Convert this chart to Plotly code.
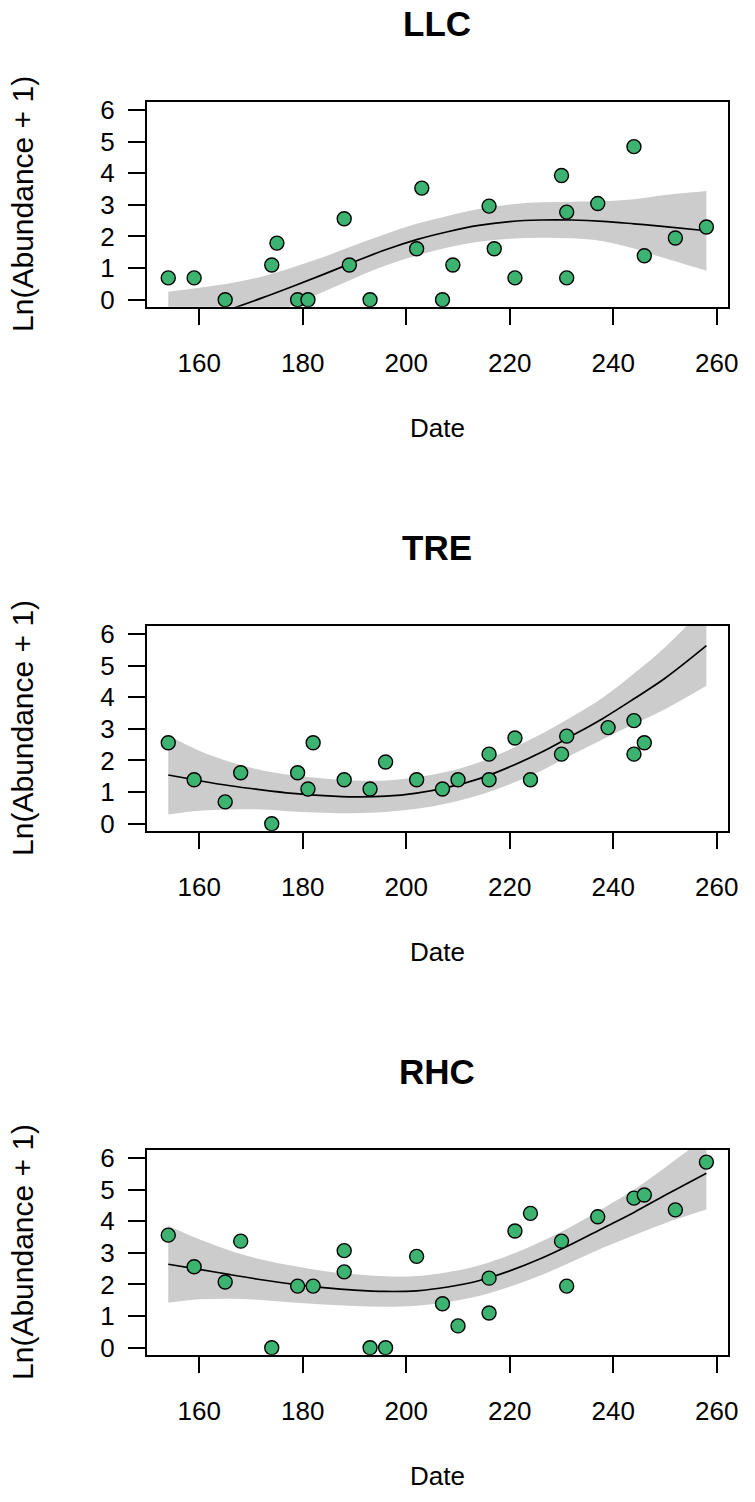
import plotly.graph_objects as go

# ---- observations: sampling date (day of year) and ln(abundance + 1) ----
llc_date = [154, 159, 165, 174, 175, 179, 181, 188, 189, 193, 202, 203, 207,
            209, 216, 217, 221, 230, 231, 231, 237, 244, 246, 252, 258]
llc_val = [0.69, 0.69, 0.00, 1.10, 1.79, 0.00, 0.00, 2.56, 1.10, 0.00, 1.61, 3.53, 0.00,
           1.10, 2.96, 1.61, 0.69, 3.93, 2.77, 0.69, 3.04, 4.84, 1.39, 1.95, 2.30]

tre_date = [154, 159, 165, 168, 174, 179, 181, 182, 188, 193, 196, 202,
            207, 210, 216, 216, 221, 224, 230, 231, 239, 244, 244, 246]
tre_val = [2.56, 1.39, 0.69, 1.61, 0.00, 1.61, 1.10, 2.56, 1.39, 1.10, 1.95, 1.39,
           1.10, 1.39, 2.20, 1.39, 2.71, 1.39, 2.20, 2.77, 3.04, 3.26, 2.20, 2.56]

rhc_date = [154, 159, 165, 168, 174, 179, 182, 188, 188, 193, 196, 202, 207,
            210, 216, 216, 221, 224, 230, 231, 237, 244, 246, 252, 258]
rhc_val = [3.56, 2.56, 2.08, 3.37, 0.00, 1.95, 1.95, 3.07, 2.40, 0.00, 0.00, 2.89, 1.39,
           0.69, 1.10, 2.20, 3.69, 4.25, 3.37, 1.95, 4.14, 4.73, 4.83, 4.36, 5.87]

# ---- fitted trend and confidence half-width on a date grid ----
fit_date = [154, 160, 166, 172, 178, 184, 190, 196, 202, 208, 214, 220, 226, 232, 238, 244, 250, 258]

llc_fit = [-1.00, -0.62, -0.30, 0.05, 0.42, 0.80, 1.20, 1.58, 1.90, 2.15, 2.35, 2.47, 2.52, 2.52, 2.48, 2.40, 2.31, 2.18]
llc_half = [1.25, 1.00, 0.82, 0.68, 0.60, 0.55, 0.52, 0.50, 0.50, 0.50, 0.52, 0.54, 0.56, 0.58, 0.63, 0.78, 1.00, 1.26]

tre_fit = [1.54, 1.36, 1.20, 1.07, 0.96, 0.89, 0.85, 0.87, 0.97, 1.15, 1.42, 1.80, 2.25, 2.78, 3.33, 3.95, 4.60, 5.63]
tre_half = [1.25, 0.95, 0.75, 0.62, 0.57, 0.54, 0.52, 0.50, 0.50, 0.50, 0.52, 0.55, 0.58, 0.60, 0.66, 0.80, 0.98, 1.27]

rhc_fit = [2.64, 2.48, 2.31, 2.15, 2.01, 1.90, 1.82, 1.78, 1.80, 1.92, 2.12, 2.43, 2.82, 3.28, 3.78, 4.28, 4.82, 5.52]
rhc_half = [1.22, 0.95, 0.76, 0.64, 0.58, 0.53, 0.50, 0.48, 0.47, 0.47, 0.48, 0.50, 0.53, 0.56, 0.62, 0.72, 0.88, 1.15]

site_names = ["LLC", "TRE", "RHC"]
x_ticks = [160, 180, 200, 220, 240, 260]
y_ticks = [0, 1, 2, 3, 4, 5, 6]

sites = [
    (llc_date, llc_val, llc_fit, llc_half),
    (tre_date, tre_val, tre_fit, tre_half),
    (rhc_date, rhc_val, rhc_fit, rhc_half),
]

W, H = 755, 1502
FONT = "Liberation Sans, Arial, Helvetica, sans-serif"
POINT_FILL = "#3cb371"
BAND = "#cccccc"

# plot-box pixel geometry of each panel
box_left, box_right = 148.7, 737.7
box_tops = [95.7, 625.0, 1154.3]
box_h = 207.0

fig = go.Figure()
layout = dict(
    width=W, height=H,
    margin=dict(l=0, r=0, t=0, b=0),
    paper_bgcolor="white", plot_bgcolor="white",
    showlegend=False,
    font=dict(family=FONT, color="black"),
)
annotations = []

for i, (d, v, f, h) in enumerate(sites):
    n = "" if i == 0 else str(i + 1)
    xa, ya = "x" + n, "y" + n
    lower = [a - b for a, b in zip(f, h)]
    upper = [a + b for a, b in zip(f, h)]

    fig.add_trace(go.Scatter(x=fit_date, y=lower, mode="lines", xaxis=xa, yaxis=ya,
                             line=dict(width=0, color=BAND, shape="spline", smoothing=1.0),
                             hoverinfo="skip"))
    fig.add_trace(go.Scatter(x=fit_date, y=upper, mode="lines", xaxis=xa, yaxis=ya,
                             fill="tonexty", fillcolor=BAND,
                             line=dict(width=0, color=BAND, shape="spline", smoothing=1.0),
                             hoverinfo="skip"))
    fig.add_trace(go.Scatter(x=fit_date, y=f, mode="lines", xaxis=xa, yaxis=ya,
                             line=dict(width=1.7, color="black", shape="spline", smoothing=1.0)))
    fig.add_trace(go.Scatter(x=d, y=v, mode="markers", xaxis=xa, yaxis=ya,
                             marker=dict(size=14, color=POINT_FILL,
                                         line=dict(color="black", width=1.4))))

    top = box_tops[i]
    y_dom = [1 - (top + box_h) / H, 1 - top / H]
    x_dom = [box_left / W, box_right / W]

    axis_common = dict(
        showgrid=False, zeroline=False,
        showline=True, linecolor="black", linewidth=1.5, mirror=True,
        ticks="outside", ticklen=17, tickwidth=1.5, tickcolor="black",
        tickfont=dict(family=FONT, size=26, color="black"),
    )
    layout["xaxis" + n] = dict(axis_common, domain=x_dom, range=[149.84, 262.16],
                               tickvals=x_ticks, ticktext=[str(t) for t in x_ticks],
                               anchor=ya, ticklabelstandoff=15)
    layout["yaxis" + n] = dict(axis_common, domain=y_dom, range=[-0.22, 6.26],
                               tickvals=y_ticks, ticktext=[str(t) for t in y_ticks],
                               anchor=xa, ticklabelstandoff=8)

    x_mid = (box_left + box_right) / 2 / W
    annotations.append(dict(text="<b>%s</b>" % site_names[i], xref="paper", yref="paper",
                            x=x_mid, y=1 - (top - 79) / H, xanchor="center", yanchor="middle",
                            showarrow=False, font=dict(family=FONT, size=35, color="black")))
    annotations.append(dict(text="Date", xref="paper", yref="paper",
                            x=x_mid, y=1 - (top + 330) / H, xanchor="center", yanchor="middle",
                            showarrow=False, font=dict(family=FONT, size=26, color="black")))
    annotations.append(dict(text="Ln(Abundance + 1)", xref="paper", yref="paper",
                            x=23 / W, y=1 - (top + box_h / 2) / H, xanchor="center", yanchor="middle",
                            textangle=-90, showarrow=False,
                            font=dict(family=FONT, size=30, color="black")))

layout["annotations"] = annotations
fig.update_layout(**layout)
fig.write_html("out.html")
